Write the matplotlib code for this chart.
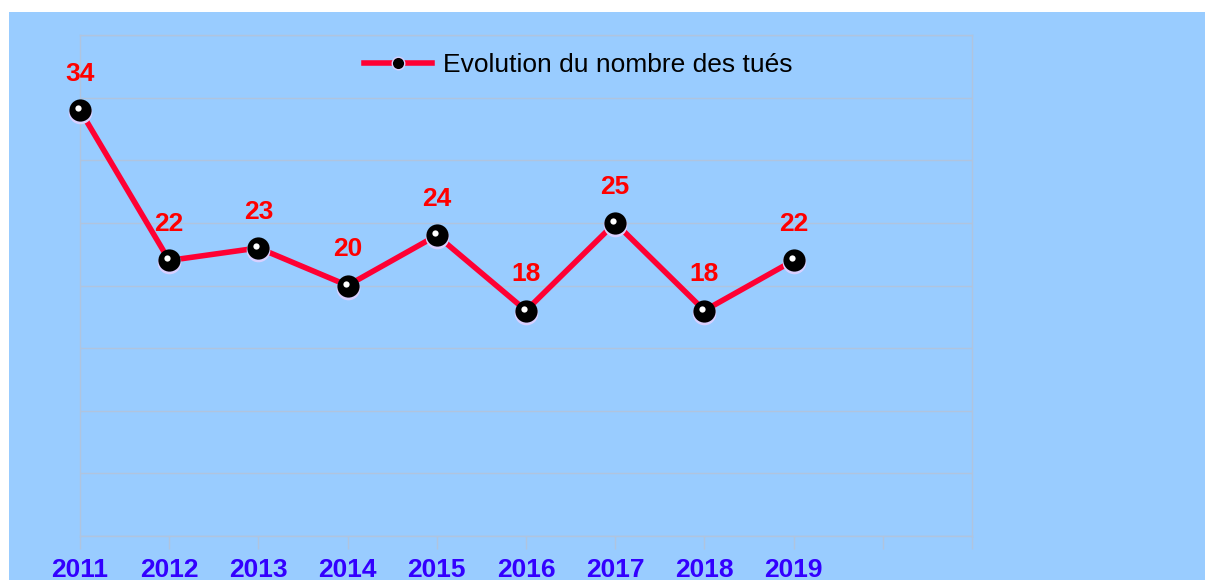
import matplotlib
matplotlib.use("Agg")
import matplotlib.pyplot as plt
import matplotlib.transforms as mtrans
from matplotlib.patches import Rectangle
from matplotlib.lines import Line2D

plt.rcParams['font.family'] = ['Liberation Sans', 'DejaVu Sans']

# data
years = ['2011', '2012', '2013', '2014', '2015', '2016', '2017', '2018', '2019']
tues = [34, 22, 23, 20, 24, 18, 25, 18, 22]
tick_labels = years + ['', '']

bg = '#99ccff'
grid_c = '#b0c4de'
line_c = '#ff0033'

fig = plt.figure(figsize=(12.05, 5.8), dpi=100)
fig.patch.set_facecolor('white')
# blue background with white margin at top/left
fig.patches.append(Rectangle((9 / 1205, 0), 1, (580 - 12) / 580,
                             transform=fig.transFigure, facecolor=bg,
                             edgecolor='none', zorder=-1))

ax = fig.add_axes([80 / 1205, 44 / 580, 892 / 1205, 501 / 580])
ax.set_facecolor(bg)

x = list(range(len(tues)))

# line
ax.plot(x, tues, color=line_c, linewidth=4, zorder=3, solid_capstyle='round',
        clip_on=False)

# markers: lavender halo, black ball, white highlight
halo = mtrans.offset_copy(ax.transData, fig=fig, x=0, y=-2, units='dots')
ax.plot(x, tues, 'o', ms=17, color='#d8d0ff', mec='none', transform=halo,
        zorder=4, clip_on=False)
ax.plot(x, tues, 'o', ms=16, color='black', mec='none', zorder=5, clip_on=False)
hl = mtrans.offset_copy(ax.transData, fig=fig, x=-2, y=2, units='dots')
ax.plot(x, tues, 'o', ms=4.5, color='white', mec='none', transform=hl,
        zorder=6, clip_on=False)

# value labels
for xi, v in zip(x, tues):
    ax.annotate(str(v), (xi, v), xytext=(0, 26), textcoords='offset points',
                ha='center', va='center', color='#ff0000', fontsize=19,
                fontweight='bold', zorder=7)

ax.set_xlim(0, 10)
ax.set_ylim(0, 40)
ax.set_yticks(range(0, 41, 5))
ax.set_xticks(range(11))
ax.set_xticklabels(tick_labels, color='#3300ff', fontsize=19, fontweight='bold')
ax.tick_params(axis='x', length=9, width=1, color=grid_c, pad=7)
ax.tick_params(axis='y', length=0, labelleft=False)
ax.grid(axis='y', color=grid_c, linewidth=1)
for s in ax.spines.values():
    s.set_color(grid_c)
    s.set_linewidth(1)

# legend
handle = Line2D([], [], color=line_c, linewidth=4, marker='o', ms=9,
                markerfacecolor='black', markeredgecolor='#d8d0ff')
leg = fig.legend([handle], ['Evolution du nombre des tués'],
                 loc='center', bbox_to_anchor=(578 / 1205, 1 - 65 / 580),
                 frameon=False, fontsize=19, handlelength=2.6, handletextpad=0.4)

fig.savefig('out.png', dpi=100, facecolor=fig.get_facecolor())
